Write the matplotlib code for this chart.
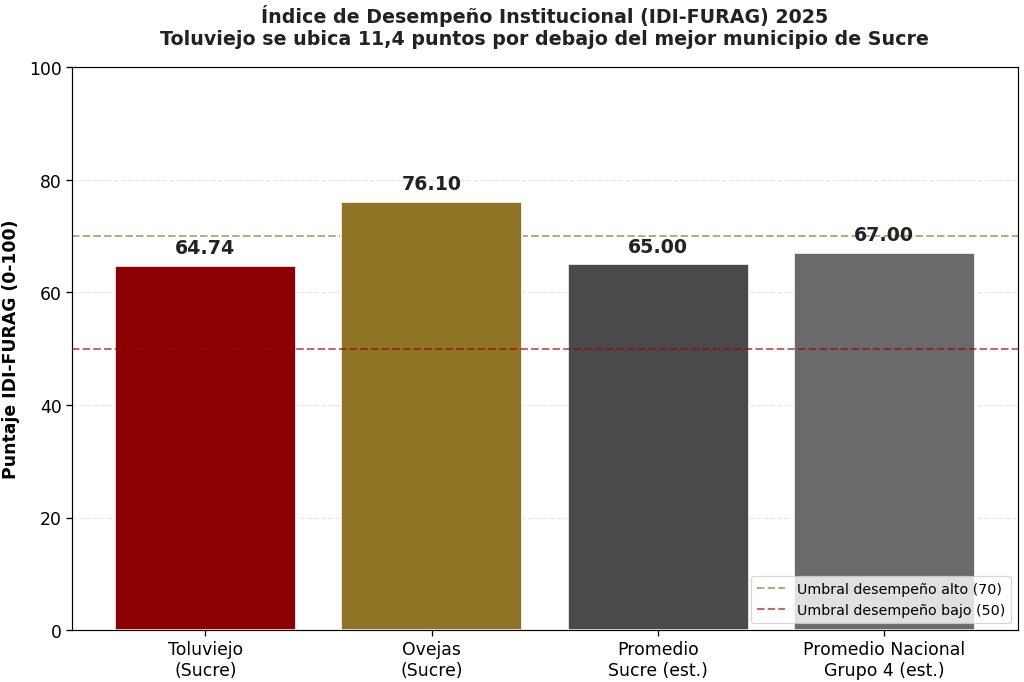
import matplotlib
matplotlib.use("Agg")
import matplotlib.pyplot as plt

# datos IDI-FURAG 2025
categorias = ["Toluviejo\n(Sucre)", "Ovejas\n(Sucre)", "Promedio\nSucre (est.)", "Promedio Nacional\nGrupo 4 (est.)"]
puntajes = [64.74, 76.10, 65.00, 67.00]
colores = ["#8B0000", "#8E7424", "#4A4A4A", "#6A6A6A"]
umbral_alto = 70
umbral_bajo = 50

fig, ax = plt.subplots(figsize=(12, 8), dpi=1024 / 12)

x = range(len(categorias))
bars = ax.bar(x, puntajes, width=0.8, color=colores, edgecolor="white", linewidth=1.4, zorder=2)

ax.axhline(umbral_alto, color="#8E7424", linestyle="--", linewidth=1.7, alpha=0.6, zorder=1,
           label="Umbral desempeño alto (70)")
ax.axhline(umbral_bajo, color="#A00000", linestyle="--", linewidth=1.7, alpha=0.6, zorder=3,
           label="Umbral desempeño bajo (50)")

for b, v in zip(bars, puntajes):
    ax.text(b.get_x() + b.get_width() / 2, v + 1.5, f"{v:.2f}", ha="center", va="bottom",
            fontsize=16, fontweight="bold", color="#222222")

ax.set_xticks(list(x))
ax.set_xticklabels(categorias, fontsize=14.6)
ax.tick_params(axis="y", labelsize=14.6)
ax.tick_params(width=1.1, length=5)
ax.set_ylim(0, 100)
ax.set_ylabel("Puntaje IDI-FURAG (0-100)", fontsize=14.6, fontweight="bold", labelpad=8)
ax.set_title("Índice de Desempeño Institucional (IDI-FURAG) 2025\n"
             "Toluviejo se ubica 11,4 puntos por debajo del mejor municipio de Sucre",
             fontsize=16, fontweight="bold", color="#222222", pad=19)
ax.yaxis.grid(True, linestyle="--", alpha=0.3, linewidth=1.1, zorder=0)
ax.set_axisbelow(True)
for sp in ax.spines.values():
    sp.set_linewidth(1.0)
ax.legend(loc="lower right", fontsize=12)

fig.subplots_adjust(left=0.0703, right=0.994, top=0.9004, bottom=0.0761)
plt.savefig("out.png", dpi=1024 / 12)
